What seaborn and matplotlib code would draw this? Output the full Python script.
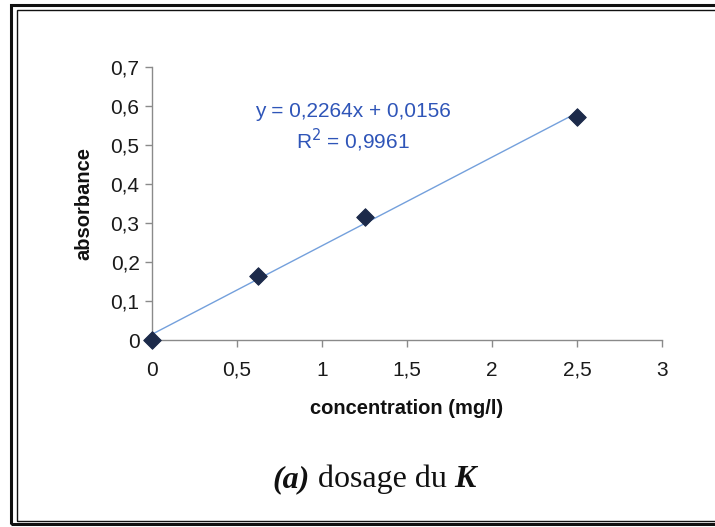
import matplotlib
matplotlib.use("Agg")
import matplotlib.pyplot as plt
import seaborn as sns
import pandas as pd
from matplotlib.patches import Rectangle

concentration = [0, 0.625, 1.25, 2.5]
absorbance = [0, 0.165, 0.315, 0.572]
x_ticks = [0, 0.5, 1, 1.5, 2, 2.5, 3]
x_tick_labels = ["0", "0,5", "1", "1,5", "2", "2,5", "3"]
y_ticks = [0, 0.1, 0.2, 0.3, 0.4, 0.5, 0.6, 0.7]
y_tick_labels = ["0", "0,1", "0,2", "0,3", "0,4", "0,5", "0,6", "0,7"]
equation = "y = 0,2264x + 0,0156"
r_squared = "R$^2$ = 0,9961"

sns.set_theme(style="white")
plt.rcParams["font.family"] = ["Liberation Sans", "DejaVu Sans"]

df = pd.DataFrame({"concentration": concentration, "absorbance": absorbance})

W, H = 715, 527
fig = plt.figure(figsize=(W / 100, H / 100), dpi=100)
fig.patch.set_facecolor("white")

ax = fig.add_axes([152 / W, 187 / H, (662 - 152) / W, (340 - 67) / H])
sns.regplot(data=df, x="concentration", y="absorbance", ax=ax, ci=None,
            truncate=True, scatter=False,
            line_kws=dict(color="#74a0dc", lw=1.0))
sns.scatterplot(data=df, x="concentration", y="absorbance", ax=ax,
                marker="D", s=80, color="#1c2a4a", edgecolor="#1c2a4a",
                zorder=5, clip_on=False)

ax.set_xlim(0, 3)
ax.set_ylim(0, 0.7)
ax.set_xticks(x_ticks)
ax.set_xticklabels(x_tick_labels)
ax.set_yticks(y_ticks)
ax.set_yticklabels(y_tick_labels)
for s in ["top", "right"]:
    ax.spines[s].set_visible(False)
for s in ["left", "bottom"]:
    ax.spines[s].set_color("#8a8a8a")
    ax.spines[s].set_linewidth(1.0)
ax.tick_params(axis="both", which="major", direction="out", length=5,
               width=1.0, color="#8a8a8a", labelsize=15, labelcolor="#1a1a1a",
               bottom=True, left=True)
ax.tick_params(axis="x", pad=10)
ax.tick_params(axis="y", pad=4)
ax.set_xlabel("concentration (mg/l)", fontsize=14.5, fontweight="bold",
              color="#111111", labelpad=14)
ax.set_ylabel("absorbance", fontsize=14.5, fontweight="bold",
              color="#111111", labelpad=12)

ax.text(1.18, 0.585, equation, transform=ax.transData, ha="center",
        va="center", fontsize=15, color="#2f55b8")
ax.text(1.18, 0.513, r_squared, transform=ax.transData, ha="center",
        va="center", fontsize=15, color="#2f55b8")

# caption with mixed styles
fig.canvas.draw()
renderer = fig.canvas.get_renderer()
pieces = [("(a)", dict(fontweight="bold", fontstyle="italic")),
          (" dosage du ", dict(fontweight="normal", fontstyle="normal")),
          ("K", dict(fontweight="bold", fontstyle="italic"))]
texts = []
for txt, kw in pieces:
    t = fig.text(0, 0, txt, fontsize=23, family="Liberation Serif",
                 color="#111111", va="baseline", ha="left", **kw)
    texts.append(t)
fig.canvas.draw()
widths = [t.get_window_extent(renderer).width for t in texts]
total = sum(widths)
x0 = 374 - total / 2
ybase = (H - 487) / H
for t, w in zip(texts, widths):
    t.set_position((x0 / W, ybase))
    x0 += w

# double frame
def frame(x0, y0, x1, y1, lw):
    fig.patches.append(Rectangle((x0 / W, 1 - y1 / H), (x1 - x0) / W,
                                 (y1 - y0) / H, transform=fig.transFigure,
                                 fill=False, edgecolor="#111111", lw=lw))

frame(11.5, 4.5, 740, 524, 2.2)
frame(16.5, 9.5, 740, 521, 1.0)

fig.savefig("out.png", dpi=100, facecolor="white")
